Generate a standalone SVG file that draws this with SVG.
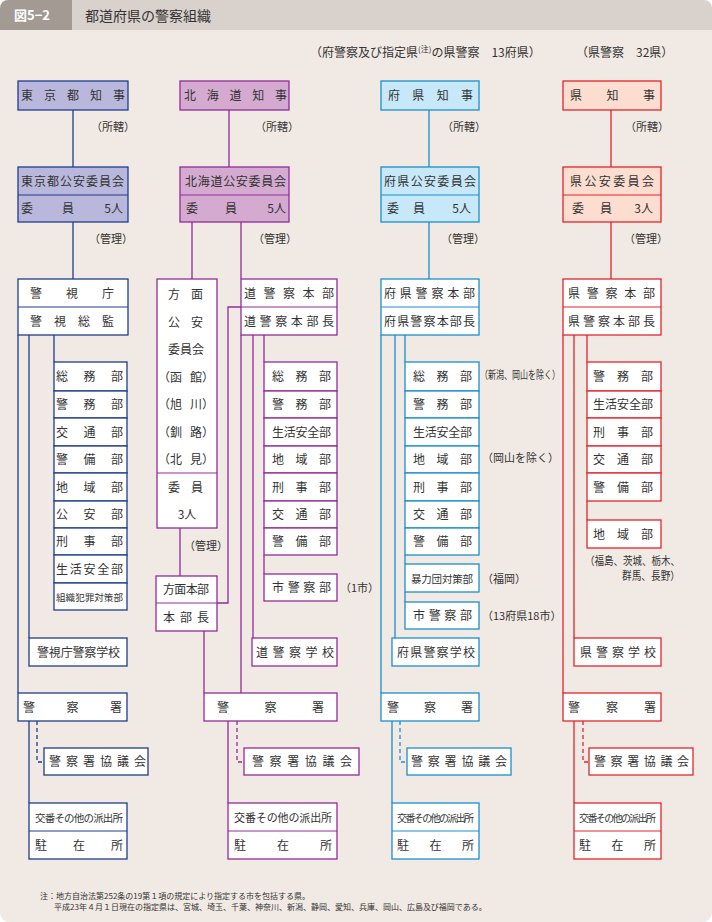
<svg xmlns="http://www.w3.org/2000/svg" width="712" height="922" viewBox="0 0 712 922">
<style>
text{font-family:"Noto Sans CJK JP","Noto Sans CJK SC",sans-serif;font-size:12px;fill:#333}
.s{font-size:10px}
.n{font-size:11px}
.f{font-size:8px}
rect{stroke-width:1.3}
.b1{fill:#fff;stroke:#1f3d8d}.h1{fill:#b9b8dc;stroke:#1f3d8d}
.b2{fill:#fff;stroke:#922c99}.h2{fill:#d4aad1;stroke:#922c99}
.b3{fill:#fff;stroke:#1b8fcd}.h3{fill:#c6e8f8;stroke:#1b8fcd}
.b4{fill:#fff;stroke:#e2252f}.h4{fill:#fcddd0;stroke:#e2252f}
.l1{stroke:#1f3d8d}.l2{stroke:#922c99}.l3{stroke:#1b8fcd}.l4{stroke:#e2252f}
#connectors path{fill:none;stroke-width:1.3}
.d{stroke-dasharray:4 3}
</style>
<rect x="0" y="0" width="712" height="922" fill="#fff"/>
<rect x="0" y="0" width="712" height="922" rx="9" fill="#f1eae4"/>
<path d="M0,30 V9 Q0,0 9,0 H703 Q712,0 712,9 V30 Z" fill="#d9d1cb"/>
<path d="M0,30 V9 Q0,0 9,0 H72 V30 Z" fill="#a39b93"/>
<text x="14" y="20" style="fill:#fff;font-size:13px;font-weight:bold">図5−2</text>
<text x="85" y="21" style="font-size:14px">都道府県の警察組織</text>
<text x="310" y="57">（府警察及び指定県<tspan style="font-size:8px" dy="-5">(注)</tspan><tspan dy="5">の県警察　13府県）</tspan></text>
<text x="576" y="57">（県警察　32県）</text>

<g id="connectors">
<path class="l1" d="M73,110 V167 M73,222 V279 M54,335 V362 M29,335 V638 M18,335 V693 M29,721 V803"/>
<path class="l1 d" d="M37,721 V762 H44"/>
<path class="l2" d="M229,110 V167 M192,222 V279 M241,222 V279 M241,335 V693 M241,307 H228 V603 H217 M253,335 V638 M264,335 V362 M264,555 V574 M180,528 V576 M204,631 V693 M228,721 V803"/>
<path class="l2 d" d="M237,721 V762 H244"/>
<path class="l3" d="M429,110 V167 M429,222 V279 M405,335 V362 M405,555 V564 M405,592 V602 M395,335 V638 M381,335 V693 M392,721 V803"/>
<path class="l3 d" d="M400,721 V762 H407"/>
<path class="l4" d="M611,110 V167 M611,222 V279 M587,335 V362 M587,501 V520 M574,335 V638 M563,335 V693 M574,721 V803"/>
<path class="l4 d" d="M583,721 V762 H589"/>
</g>

<g id="notes">
<text class="n" x="91" y="131">（所轄）</text>
<text class="n" x="255" y="131">（所轄）</text>
<text class="n" x="442" y="131">（所轄）</text>
<text class="n" x="625" y="131">（所轄）</text>
<text class="n" x="89" y="243">（管理）</text>
<text class="n" x="253" y="243">（管理）</text>
<text class="n" x="441" y="243">（管理）</text>
<text class="n" x="624" y="243">（管理）</text>
<text class="n" x="184" y="550">（管理）</text>
<text class="n" x="340" y="592">（1市）</text>
<text class="n" x="480" y="379" textLength="80" lengthAdjust="spacingAndGlyphs">（新潟、岡山を除く）</text>
<text class="n" x="482" y="462">（岡山を除く）</text>
<text class="n" x="482" y="583">（福岡）</text>
<text class="n" x="482" y="620">（13府県18市）</text>
<text class="n" x="585" y="565" textLength="95" lengthAdjust="spacingAndGlyphs">（福島、茨城、栃木、</text>
<text class="n" x="622" y="580" textLength="58" lengthAdjust="spacingAndGlyphs">群馬、長野）</text>
<text class="f" x="40" y="899">注：地方自治法第252条の19第１項の規定により指定する市を包括する県。</text>
<text class="f" x="54" y="910">平成23年４月１日現在の指定県は、宮城、埼玉、千葉、神奈川、新潟、静岡、愛知、兵庫、岡山、広島及び福岡である。</text>
</g>

<!-- Column 1: Tokyo -->
<g id="tokyo-chiji"><rect class="h1" x="18" y="81" width="110" height="29"/><text x="21" y="100" textLength="104" lengthAdjust="spacing">東京都知事</text></g>
<g id="tokyo-koan"><rect class="h1" x="18" y="167" width="110" height="55"/><path class="l1" d="M18,195 H128"/>
<text x="21" y="186" textLength="103" lengthAdjust="spacing">東京都公安委員会</text>
<text x="21" y="213">委</text><text x="62" y="213">員</text><text x="123" y="213" text-anchor="end">5人</text></g>
<g id="keishicho"><rect class="b1" x="18" y="279" width="110" height="56"/><path class="l1" d="M18,307 H128"/>
<text x="30" y="298" textLength="84" lengthAdjust="spacing">警視庁</text>
<text x="30" y="326" textLength="84" lengthAdjust="spacing">警視総監</text></g>
<g id="tokyo-depts">
<rect class="b1" x="54" y="362" width="73" height="29"/><text x="56" y="381" textLength="67" lengthAdjust="spacing">総務部</text>
<rect class="b1" x="54" y="391" width="73" height="27"/><text x="56" y="409" textLength="67" lengthAdjust="spacing">警務部</text>
<rect class="b1" x="54" y="418" width="73" height="28"/><text x="56" y="437" textLength="67" lengthAdjust="spacing">交通部</text>
<rect class="b1" x="54" y="446" width="73" height="27"/><text x="56" y="464" textLength="67" lengthAdjust="spacing">警備部</text>
<rect class="b1" x="54" y="473" width="73" height="28"/><text x="56" y="492" textLength="67" lengthAdjust="spacing">地域部</text>
<rect class="b1" x="54" y="501" width="73" height="27"/><text x="56" y="519" textLength="67" lengthAdjust="spacing">公安部</text>
<rect class="b1" x="54" y="528" width="73" height="27"/><text x="56" y="546" textLength="67" lengthAdjust="spacing">刑事部</text>
<rect class="b1" x="54" y="555" width="73" height="28"/><text x="56" y="574" textLength="67" lengthAdjust="spacing">生活安全部</text>
<rect class="b1" x="54" y="583" width="73" height="27"/><text x="56" y="601" style="font-size:9.5px" textLength="67" lengthAdjust="spacingAndGlyphs">組織犯罪対策部</text>
</g>
<g id="tokyo-school"><rect class="b1" x="29" y="638" width="98" height="28"/><text x="37" y="657" textLength="83" lengthAdjust="spacing">警視庁警察学校</text></g>
<g id="tokyo-station"><rect class="b1" x="18" y="693" width="109" height="28"/><text x="23" y="712" textLength="99" lengthAdjust="spacing">警察署</text></g>
<g id="tokyo-council"><rect class="b1" x="44" y="748" width="104" height="27"/><text x="49" y="766" textLength="97" lengthAdjust="spacing">警察署協議会</text></g>
<g id="tokyo-koban"><rect class="b1" x="29" y="803" width="98" height="56"/><path class="l1" d="M29,831 H127"/>
<text x="35" y="822" style="font-size:10.5px" textLength="88" lengthAdjust="spacing">交番その他の派出所</text>
<text x="35" y="850" textLength="88" lengthAdjust="spacing">駐在所</text></g>

<!-- Column 2: Hokkaido -->
<g id="hokkaido-chiji"><rect class="h2" x="180" y="81" width="109" height="29"/><text x="184" y="100" textLength="103" lengthAdjust="spacing">北海道知事</text></g>
<g id="hokkaido-koan"><rect class="h2" x="180" y="167" width="109" height="55"/><path class="l2" d="M180,195 H289"/>
<text x="185" y="186" textLength="101" lengthAdjust="spacing">北海道公安委員会</text>
<text x="186" y="213">委</text><text x="225" y="213">員</text><text x="286" y="213" text-anchor="end">5人</text></g>
<g id="homen-koan"><rect class="b2" x="157" y="279" width="60" height="249"/><path class="l2" d="M157,473 H217"/>
<text x="168" y="299" textLength="35" lengthAdjust="spacing">方面</text>
<text x="168" y="327" textLength="35" lengthAdjust="spacing">公安</text>
<text x="168" y="354" textLength="36" lengthAdjust="spacing">委員会</text>
<text x="158" y="382">（函</text><text x="190" y="382">館）</text>
<text x="158" y="409">（旭</text><text x="190" y="409">川）</text>
<text x="158" y="437">（釧</text><text x="190" y="437">路）</text>
<text x="158" y="464">（北</text><text x="190" y="464">見）</text>
<text x="168" y="492" textLength="35" lengthAdjust="spacing">委員</text>
<text x="187" y="519" text-anchor="middle">3人</text></g>
<g id="dokei-honbu"><rect class="b2" x="241" y="279" width="96" height="56"/><path class="l2" d="M241,307 H337"/>
<text x="244" y="298" textLength="90" lengthAdjust="spacing">道警察本部</text>
<text x="244" y="326" textLength="90" lengthAdjust="spacing">道警察本部長</text></g>
<g id="hokkaido-depts">
<rect class="b2" x="264" y="362" width="73" height="29"/><text x="272" y="381" textLength="59" lengthAdjust="spacing">総務部</text>
<rect class="b2" x="264" y="391" width="73" height="27"/><text x="272" y="409" textLength="59" lengthAdjust="spacing">警務部</text>
<rect class="b2" x="264" y="418" width="73" height="28"/><text x="272" y="437" textLength="59" lengthAdjust="spacing">生活安全部</text>
<rect class="b2" x="264" y="446" width="73" height="27"/><text x="272" y="464" textLength="59" lengthAdjust="spacing">地域部</text>
<rect class="b2" x="264" y="473" width="73" height="28"/><text x="272" y="492" textLength="59" lengthAdjust="spacing">刑事部</text>
<rect class="b2" x="264" y="501" width="73" height="27"/><text x="272" y="519" textLength="59" lengthAdjust="spacing">交通部</text>
<rect class="b2" x="264" y="528" width="73" height="27"/><text x="272" y="546" textLength="59" lengthAdjust="spacing">警備部</text>
</g>
<g id="hokkaido-city"><rect class="b2" x="264" y="574" width="73" height="27"/><text x="272" y="592" textLength="59" lengthAdjust="spacing">市警察部</text></g>
<g id="homen-honbu"><rect class="b2" x="156" y="576" width="61" height="55"/><path class="l2" d="M156,603 H217"/>
<text x="163" y="594" textLength="46" lengthAdjust="spacing">方面本部</text>
<text x="163" y="622" textLength="46" lengthAdjust="spacing">本部長</text></g>
<g id="hokkaido-school"><rect class="b2" x="252" y="638" width="85" height="28"/><text x="256" y="657" textLength="78" lengthAdjust="spacing">道警察学校</text></g>
<g id="hokkaido-station"><rect class="b2" x="204" y="693" width="133" height="28"/><text x="217" y="712" textLength="107" lengthAdjust="spacing">警察署</text></g>
<g id="hokkaido-council"><rect class="b2" x="244" y="748" width="115" height="27"/><text x="252" y="766" textLength="100" lengthAdjust="spacing">警察署協議会</text></g>
<g id="hokkaido-koban"><rect class="b2" x="228" y="803" width="109" height="56"/><path class="l2" d="M228,831 H337"/>
<text x="234" y="822" style="font-size:11px" textLength="98" lengthAdjust="spacing">交番その他の派出所</text>
<text x="234" y="850" textLength="98" lengthAdjust="spacing">駐在所</text></g>

<!-- Column 3: Fu/Ken (designated) -->
<g id="fuken-chiji"><rect class="h3" x="381" y="81" width="98" height="29"/><text x="388" y="100" textLength="85" lengthAdjust="spacing">府県知事</text></g>
<g id="fuken-koan"><rect class="h3" x="381" y="167" width="98" height="55"/><path class="l3" d="M381,195 H479"/>
<text x="384" y="186" textLength="92" lengthAdjust="spacing">府県公安委員会</text>
<text x="387" y="213">委</text><text x="413" y="213">員</text><text x="471" y="213" text-anchor="end">5人</text></g>
<g id="fuken-honbu"><rect class="b3" x="381" y="279" width="98" height="56"/><path class="l3" d="M381,307 H479"/>
<text x="384" y="298" textLength="91" lengthAdjust="spacing">府県警察本部</text>
<text x="384" y="326" textLength="91" lengthAdjust="spacing">府県警察本部長</text></g>
<g id="fuken-depts">
<rect class="b3" x="405" y="362" width="74" height="29"/><text x="413" y="381" textLength="59" lengthAdjust="spacing">総務部</text>
<rect class="b3" x="405" y="391" width="74" height="27"/><text x="413" y="409" textLength="59" lengthAdjust="spacing">警務部</text>
<rect class="b3" x="405" y="418" width="74" height="28"/><text x="413" y="437" textLength="59" lengthAdjust="spacing">生活安全部</text>
<rect class="b3" x="405" y="446" width="74" height="27"/><text x="413" y="464" textLength="59" lengthAdjust="spacing">地域部</text>
<rect class="b3" x="405" y="473" width="74" height="28"/><text x="413" y="492" textLength="59" lengthAdjust="spacing">刑事部</text>
<rect class="b3" x="405" y="501" width="74" height="27"/><text x="413" y="519" textLength="59" lengthAdjust="spacing">交通部</text>
<rect class="b3" x="405" y="528" width="74" height="27"/><text x="413" y="546" textLength="59" lengthAdjust="spacing">警備部</text>
</g>
<g id="fuken-boryokudan"><rect class="b3" x="405" y="564" width="74" height="28"/><text x="411" y="583" style="font-size:10.5px" textLength="62" lengthAdjust="spacing">暴力団対策部</text></g>
<g id="fuken-city"><rect class="b3" x="405" y="602" width="74" height="27"/><text x="413" y="620" textLength="59" lengthAdjust="spacing">市警察部</text></g>
<g id="fuken-school"><rect class="b3" x="392" y="638" width="87" height="28"/><text x="397" y="657" textLength="78" lengthAdjust="spacing">府県警察学校</text></g>
<g id="fuken-station"><rect class="b3" x="381" y="693" width="98" height="28"/><text x="387" y="712" textLength="86" lengthAdjust="spacing">警察署</text></g>
<g id="fuken-council"><rect class="b3" x="407" y="748" width="104" height="27"/><text x="411" y="766" textLength="96" lengthAdjust="spacing">警察署協議会</text></g>
<g id="fuken-koban"><rect class="b3" x="392" y="803" width="87" height="56"/><path class="l3" d="M392,831 H479"/>
<text x="397" y="822" style="font-size:10px" textLength="77" lengthAdjust="spacing">交番その他の派出所</text>
<text x="397" y="850" textLength="77" lengthAdjust="spacing">駐在所</text></g>

<!-- Column 4: Ken -->
<g id="ken-chiji"><rect class="h4" x="563" y="81" width="98" height="29"/><text x="570" y="100" textLength="85" lengthAdjust="spacing">県知事</text></g>
<g id="ken-koan"><rect class="h4" x="563" y="167" width="98" height="55"/><path class="l4" d="M563,195 H661"/>
<text x="570" y="186" textLength="84" lengthAdjust="spacing">県公安委員会</text>
<text x="572" y="213">委</text><text x="600" y="213">員</text><text x="653" y="213" text-anchor="end">3人</text></g>
<g id="ken-honbu"><rect class="b4" x="563" y="279" width="98" height="56"/><path class="l4" d="M563,307 H661"/>
<text x="568" y="298" textLength="87" lengthAdjust="spacing">県警察本部</text>
<text x="568" y="326" textLength="87" lengthAdjust="spacing">県警察本部長</text></g>
<g id="ken-depts">
<rect class="b4" x="587" y="362" width="74" height="29"/><text x="593" y="381" textLength="60" lengthAdjust="spacing">警務部</text>
<rect class="b4" x="587" y="391" width="74" height="27"/><text x="593" y="409" textLength="60" lengthAdjust="spacing">生活安全部</text>
<rect class="b4" x="587" y="418" width="74" height="28"/><text x="593" y="437" textLength="60" lengthAdjust="spacing">刑事部</text>
<rect class="b4" x="587" y="446" width="74" height="27"/><text x="593" y="464" textLength="60" lengthAdjust="spacing">交通部</text>
<rect class="b4" x="587" y="473" width="74" height="28"/><text x="593" y="492" textLength="60" lengthAdjust="spacing">警備部</text>
</g>
<g id="ken-chiiki"><rect class="b4" x="587" y="520" width="74" height="28"/><text x="593" y="539" textLength="60" lengthAdjust="spacing">地域部</text></g>
<g id="ken-school"><rect class="b4" x="574" y="638" width="87" height="28"/><text x="580" y="657" textLength="76" lengthAdjust="spacing">県警察学校</text></g>
<g id="ken-station"><rect class="b4" x="563" y="693" width="98" height="28"/><text x="568" y="712" textLength="88" lengthAdjust="spacing">警察署</text></g>
<g id="ken-council"><rect class="b4" x="589" y="748" width="104" height="27"/><text x="594" y="766" textLength="95" lengthAdjust="spacing">警察署協議会</text></g>
<g id="ken-koban"><rect class="b4" x="574" y="803" width="87" height="56"/><path class="l4" d="M574,831 H661"/>
<text x="579" y="822" style="font-size:10px" textLength="77" lengthAdjust="spacing">交番その他の派出所</text>
<text x="579" y="850" textLength="77" lengthAdjust="spacing">駐在所</text></g>
</svg>
